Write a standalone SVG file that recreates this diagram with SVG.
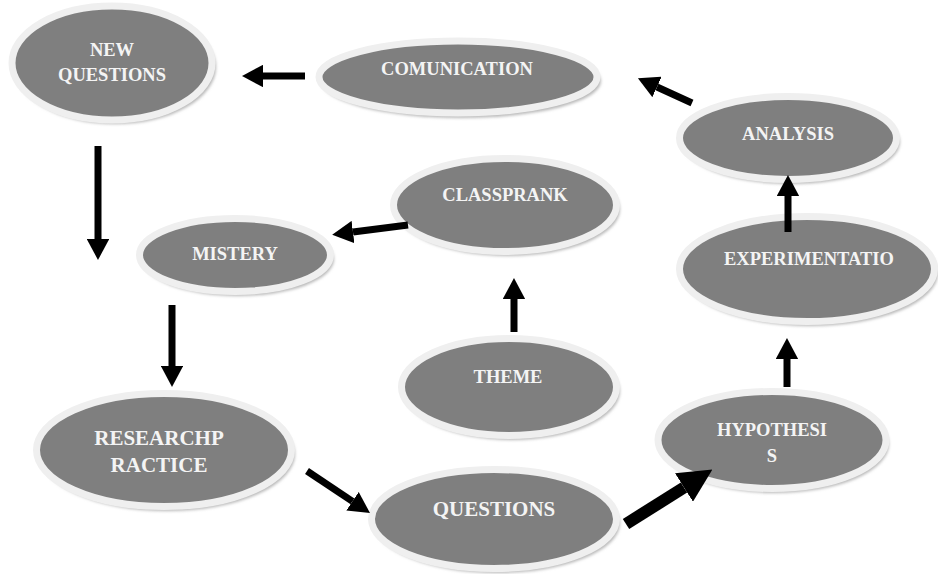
<svg xmlns="http://www.w3.org/2000/svg" width="938" height="574" viewBox="0 0 938 574">
<style>
.sh{fill:#b8b8b8;filter:url(#blur)}
.nd{fill:#7f7f7f;stroke:#efefef;stroke-width:7}
.tx{font-family:"Liberation Serif","Times New Roman",serif;font-weight:bold;font-size:18.5px;fill:#f4f4f4;text-anchor:middle}
.big{font-size:21px}
.ar{stroke:#000;stroke-width:7;fill:none;marker-end:url(#ah)}
.arb{stroke:#000;stroke-width:12;fill:none;marker-end:url(#ahb)}
</style>
<defs>
<filter id="blur" x="-10%" y="-10%" width="120%" height="120%"><feGaussianBlur stdDeviation="1.5"/></filter>
<marker id="ah" markerUnits="strokeWidth" markerWidth="3" markerHeight="3.2" refX="0" refY="1.6" orient="auto"><path d="M0,0 L3,1.6 L0,3.2 z" fill="#000"/></marker>
<marker id="ahb" markerUnits="strokeWidth" markerWidth="2.8" markerHeight="2.8" refX="0" refY="1.4" orient="auto"><path d="M0,0 L2.8,1.4 L0,2.8 z" fill="#000"/></marker>
</defs>
<rect width="938" height="574" fill="#fff"/>
<g id="n-newquestions">
<ellipse class="sh" cx="115" cy="67" rx="101" ry="57"/>
<ellipse class="nd" cx="112" cy="63" rx="100" ry="57"/>
<text class="tx" x="112" y="56">NEW</text>
<text class="tx" x="112" y="81">QUESTIONS</text>
</g>
<g id="n-comunication">
<ellipse class="sh" cx="461" cy="81" rx="140" ry="37"/>
<ellipse class="nd" cx="458" cy="77" rx="139" ry="36"/>
<text class="tx" x="457" y="75">COMUNICATION</text>
</g>
<g id="n-analysis">
<ellipse class="sh" cx="791" cy="142" rx="109" ry="42"/>
<ellipse class="nd" cx="788" cy="138" rx="108.5" ry="41.5"/>
<text class="tx" x="788" y="140">ANALYSIS</text>
</g>
<g id="n-classprank">
<ellipse class="sh" cx="508" cy="209" rx="112" ry="47"/>
<ellipse class="nd" cx="505" cy="205" rx="111.5" ry="46.5"/>
<text class="tx" x="505" y="201">CLASSPRANK</text>
</g>
<g id="n-mistery">
<ellipse class="sh" cx="238" cy="259" rx="96" ry="37"/>
<ellipse class="nd" cx="235" cy="255" rx="95.5" ry="36.5"/>
<text class="tx" x="235" y="260">MISTERY</text>
</g>
<g id="n-experimentation">
<ellipse class="sh" cx="810" cy="273" rx="128" ry="53"/>
<ellipse class="nd" cx="807" cy="269" rx="127.5" ry="52.5"/>
<text class="tx" x="809" y="265">EXPERIMENTATIO</text>
</g>
<g id="n-theme">
<ellipse class="sh" cx="512" cy="391" rx="108" ry="49"/>
<ellipse class="nd" cx="509" cy="387" rx="107.5" ry="48.5"/>
<text class="tx" x="508" y="383">THEME</text>
</g>
<g id="n-researchpractice">
<ellipse class="sh" cx="167" cy="454" rx="128" ry="57"/>
<ellipse class="nd" cx="164" cy="450" rx="127.5" ry="56.5"/>
<text class="tx big" x="159" y="445">RESEARCHP</text>
<text class="tx big" x="159" y="472">RACTICE</text>
</g>
<g id="n-questions">
<ellipse class="sh" cx="497" cy="523" rx="123" ry="50"/>
<ellipse class="nd" cx="494" cy="519" rx="122.5" ry="49.5"/>
<text class="tx big" x="494" y="516">QUESTIONS</text>
</g>
<g id="n-hypothesis">
<ellipse class="sh" cx="775" cy="444" rx="114" ry="49"/>
<ellipse class="nd" cx="772" cy="440" rx="114" ry="48.5"/>
<text class="tx" x="772" y="436">HYPOTHESI</text>
<text class="tx" x="772" y="462">S</text>
</g>
<g id="connectors">
<line class="ar" x1="305" y1="76" x2="263" y2="76"/>
<line class="ar" x1="98" y1="146" x2="98" y2="239"/>
<line class="ar" x1="172" y1="305" x2="172" y2="366"/>
<line class="ar" x1="307" y1="471" x2="352.5" y2="501.3"/>
<line class="arb" x1="626" y1="524" x2="684" y2="487.5"/>
<line class="ar" x1="787" y1="387" x2="787" y2="359"/>
<line class="ar" x1="788" y1="232" x2="788" y2="196"/>
<line class="ar" x1="692" y1="103" x2="657" y2="87"/>
<line class="ar" x1="514" y1="332" x2="514" y2="299"/>
<line class="ar" x1="408" y1="225" x2="353" y2="232"/>
</g>
</svg>
